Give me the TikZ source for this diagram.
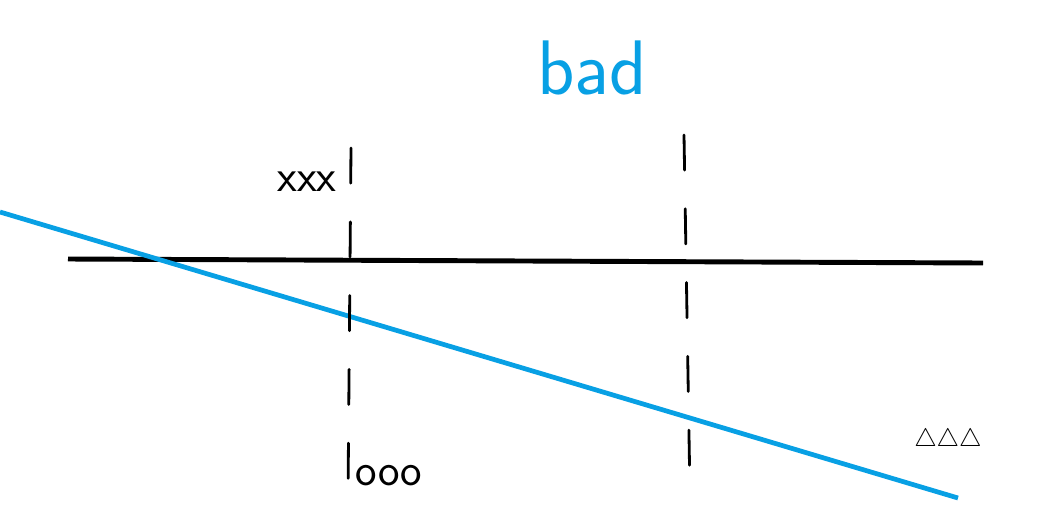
\documentclass[tikz,border=0pt]{standalone}
\usepackage{amsmath,amssymb}
\usepackage{xcolor}
\usepackage{tikz}
\usetikzlibrary{positioning}
\definecolor{skyblue}{RGB}{8,160,228}

\begin{document}
\begin{tikzpicture}[x=0.02cm, y=-0.02cm]
\tikzstyle{axis} = [line width=2.8pt, black]
\tikzstyle{bound} = [line width=2.7pt, skyblue]
\tikzstyle{guide} = [line width=1.6pt, black, dash pattern=on 20pt off 22pt, line cap=round]
\tikzstyle{scrawl} = [font=\sffamily\fontsize{26}{26}\selectfont, inner sep=0pt]

\useasboundingbox (0,0) rectangle (1052,508);

% lines
\coordinate (axl) at (68,259);
\coordinate (axr) at (983,263);
\coordinate (bl) at (0,212);
\coordinate (br) at (958,498);
\draw [axis] (axl) -- (axr);
\draw [bound] (bl) -- (br);

% dashed guides
\coordinate (ga) at (351,148);
\coordinate (gb) at (348,497);
\coordinate (gc) at (684,135);
\coordinate (gd) at (690,495);
\draw [guide] (ga) -- (gb);
\draw [guide] (gc) -- (gd);

% labels
\node (bad) [font=\sffamily\fontsize{44}{44}\selectfont, text=skyblue, inner sep=0pt] at (592,68) {bad};
\node (xxx) [scrawl] at (307,182) {xxx};
\node (ooo) [scrawl] at (389,476) {ooo};
\node (tri) [scrawl, font=\fontsize{15}{15}\selectfont] at (948,440) {$\triangle\triangle\triangle$};
\end{tikzpicture}
\end{document}
